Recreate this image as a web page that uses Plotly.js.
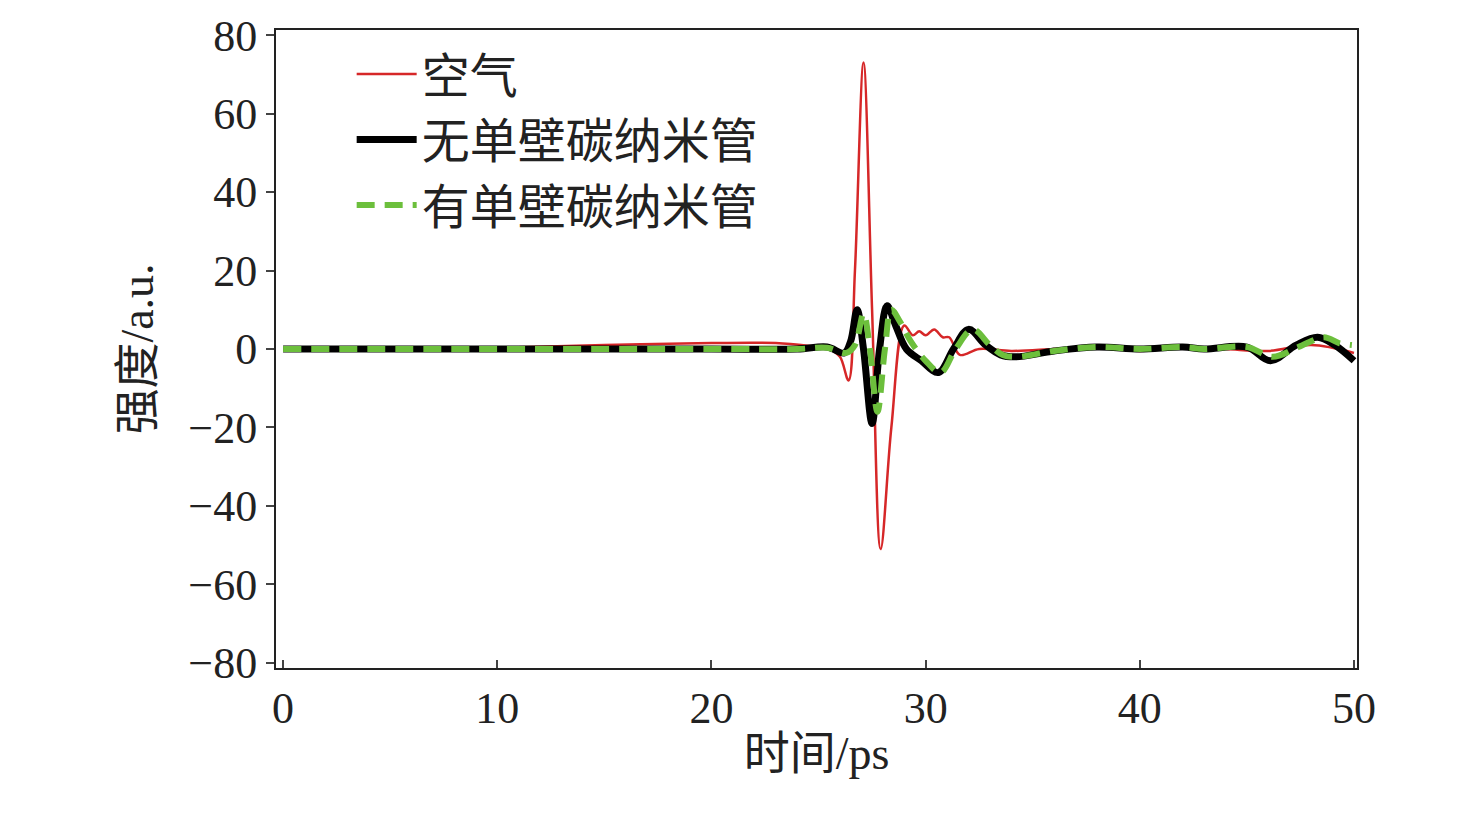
<!DOCTYPE html>
<html><head><meta charset="utf-8">
<script src="https://cdn.plot.ly/plotly-3.0.1.min.js"></script>
<style>body{margin:0;background:#fff}#c{width:1476px;height:815px}</style>
</head><body><div id="c"></div>
<script>
var airX = [0, 5, 10, 15, 20, 23, 24.5, 25.5, 26.0, 26.4, 26.7, 27.1, 27.5, 27.9, 28.4, 29.0, 29.4, 29.7, 30.0, 30.4, 30.8, 31.1, 31.6, 32.5, 34, 36, 38, 40, 42, 44, 46, 48, 50];
var airY = [0, 0, 0.3, 1, 1.5, 1.5, 0.8, 0, -2, -8, 20, 73, 10, -51, -20, 6, 3.5, 4.5, 3.5, 5, 3, 3, -1.5, 0, -0.5, 0, 0.5, -0.5, 0.5, 0, -0.5, 1, -1];
var noX = [0, 10, 20, 24, 25.4, 26.2, 26.5, 26.8, 27.1, 27.5, 27.85, 28.2, 28.6, 29.1, 29.8, 30.6, 31.3, 32.0, 32.8, 33.5, 34.2, 36, 38, 40, 42, 43, 45, 46.1, 47.3, 48.3, 49.1, 50];
var noY = [0, 0, 0, 0, 0.5, -1, 2, 10, 0, -19, 0, 11, 6, 0, -3, -6, 0, 5, 1, -1.5, -2, -0.5, 0.5, 0, 0.5, 0, 0.5, -3, 1, 3, 1, -3];
var cntX = [0, 10, 20, 24, 25.4, 26.3, 26.7, 27.1, 27.4, 27.75, 28.1, 28.4, 28.8, 29.3, 30.0, 30.7, 31.4, 32.2, 33.0, 33.6, 34.2, 36, 38, 40, 42, 43, 45, 46.2, 47.4, 48.6, 49.3, 49.9];
var cntY = [0, 0, 0, 0, 0.3, -1, 1, 9, 0, -16, 0, 10, 7, 2, -3, -6, 0, 5, 1, -1.5, -2, -0.5, 0.5, 0, 0.5, 0, 0.5, -2, 0.5, 3, 1.5, 1];

var names = ['空气', '无单壁碳纳米管', '有单壁碳纳米管'];

var data = [
  {x: airX, y: airY, name: names[0], mode: 'lines', line: {color: '#d62728', width: 2.5, shape: 'spline'}},
  {x: noX, y: noY, name: names[1], mode: 'lines', line: {color: '#000', width: 7, shape: 'spline'}},
  {x: cntX, y: cntY, name: names[2], mode: 'lines', line: {color: '#6cbf3c', width: 6, dash: '18px,10px', shape: 'spline'}}
];

var fnt = {family: 'Liberation Serif, Noto Sans CJK SC, serif', size: 46, color: '#222'};
var layout = {
  width: 1476, height: 815,
  margin: {l: 276, r: 119, t: 30, b: 147},
  paper_bgcolor: '#fff', plot_bgcolor: '#fff',
  font: {family: fnt.family, size: 44, color: '#222'},
  showlegend: true,
  legend: {x: 0.07, y: 0.99, bgcolor: 'rgba(0,0,0,0)', itemwidth: 60, font: {family: fnt.family, size: 48, color: '#222'}},
  xaxis: {range: [-0.33, 50.14], tickvals: [0, 10, 20, 30, 40, 50], ticks: 'inside', ticklen: 8, tickwidth: 2,
    showline: true, mirror: true, linecolor: '#222', linewidth: 2, showgrid: false, zeroline: false,
    title: {text: '时间/ps', font: fnt, standoff: 5}},
  yaxis: {range: [-81.3, 81.3], tickvals: [-80, -60, -40, -20, 0, 20, 40, 60, 80], ticks: 'outside', ticklen: 8, tickwidth: 2,
    showline: true, mirror: true, linecolor: '#222', linewidth: 2, showgrid: false, zeroline: false,
    title: {text: '强度/a.u.', font: fnt, standoff: 20}}
};

Plotly.newPlot('c', data, layout, {displayModeBar: false});
</script>
</body></html>
